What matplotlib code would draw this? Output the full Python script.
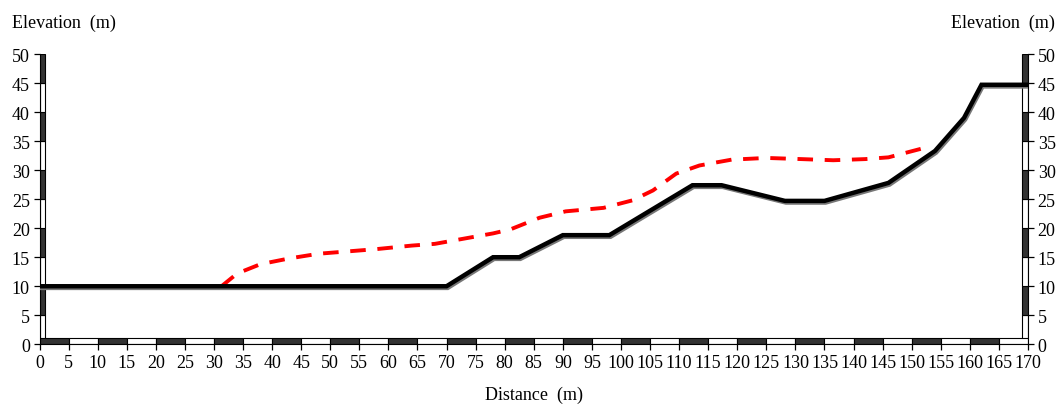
import matplotlib
matplotlib.use("Agg")
import matplotlib.pyplot as plt
import matplotlib.patheffects as pe
from matplotlib.patches import Rectangle

# Ground profile (black solid)
ground_x = [0, 70, 78, 82.5, 90, 98, 112.3, 117.3, 128.2, 135, 146, 154, 159, 162, 170]
ground_y = [10, 10, 15, 15, 18.8, 18.8, 27.4, 27.4, 24.7, 24.7, 27.8, 33.3, 39, 44.7, 44.7]

# Red dashed profile
red_x = [31.3, 34, 38, 43, 48, 53, 58, 64, 68, 73, 78, 81, 86, 90.5, 97, 102, 105.5,
         109.5, 113.5, 119, 125, 131, 136.5, 142, 146, 151.7]
red_y = [10.0, 12.2, 13.8, 14.8, 15.6, 16.0, 16.4, 17.0, 17.3, 18.2, 19.1, 19.8, 21.8,
         22.9, 23.5, 24.8, 26.5, 29.4, 30.8, 31.8, 32.1, 31.9, 31.7, 31.9, 32.2, 33.7]

x_ticks = list(range(0, 171, 5))
y_ticks = list(range(0, 51, 5))

plt.rcParams['font.family'] = ['Liberation Serif', 'DejaVu Serif']

W, H = 1061, 406
fig = plt.figure(figsize=(W / 100, H / 100), dpi=100)
left, right = 39.5 / W, 1028 / W
bottom, top = (H - 345.3) / H, (H - 55) / H
ax = fig.add_axes([left, bottom, right - left, top - bottom])
ax.set_xlim(0, 170)
ax.set_ylim(0, 50)

dark = '#333333'
# scale-bar style axes
for i, y0 in enumerate(range(0, 50, 5)):
    fc = dark if i % 2 == 1 else 'white'
    ax.add_patch(Rectangle((0, y0), 0.95, 5, facecolor=fc, edgecolor='black', lw=0.8, zorder=2))
    ax.add_patch(Rectangle((169.05, y0), 0.95, 5, facecolor=fc, edgecolor='black', lw=0.8, zorder=2))
for i, x0 in enumerate(range(0, 170, 5)):
    fc = dark if i % 2 == 0 else 'white'
    ax.add_patch(Rectangle((x0, 0), 5, 1.0, facecolor=fc, edgecolor='black', lw=0.8, zorder=2))

ax.plot(red_x, red_y, color='red', lw=2.8, dashes=(4.0, 3.0), zorder=3,
        solid_capstyle='butt', dash_capstyle='butt')
ax.plot(ground_x, ground_y, color='black', lw=3.2, zorder=4,
        solid_joinstyle='miter',
        path_effects=[pe.SimpleLineShadow(offset=(0.8, -1.2), shadow_color='#777777', alpha=1),
                      pe.Normal()])

ax.spines['top'].set_visible(False)
for s in ['left', 'right', 'bottom']:
    ax.spines[s].set_linewidth(0.8)

ax.set_xticks(x_ticks)
ax.set_yticks(y_ticks)
ax.tick_params(axis='both', direction='out', length=4, width=0.9, labelsize=13, pad=3)
ax.tick_params(axis='y', left=True, right=True, labelleft=True, labelright=True)

fig.text(12 / W, 1 - 23 / H, 'Elevation  (m)', ha='left', va='center', fontsize=13)
fig.text(1055 / W, 1 - 23 / H, 'Elevation  (m)', ha='right', va='center', fontsize=13)
fig.text(534 / W, 1 - 395 / H, 'Distance  (m)', ha='center', va='center', fontsize=13)

fig.savefig('out.png', dpi=100, facecolor='white')
